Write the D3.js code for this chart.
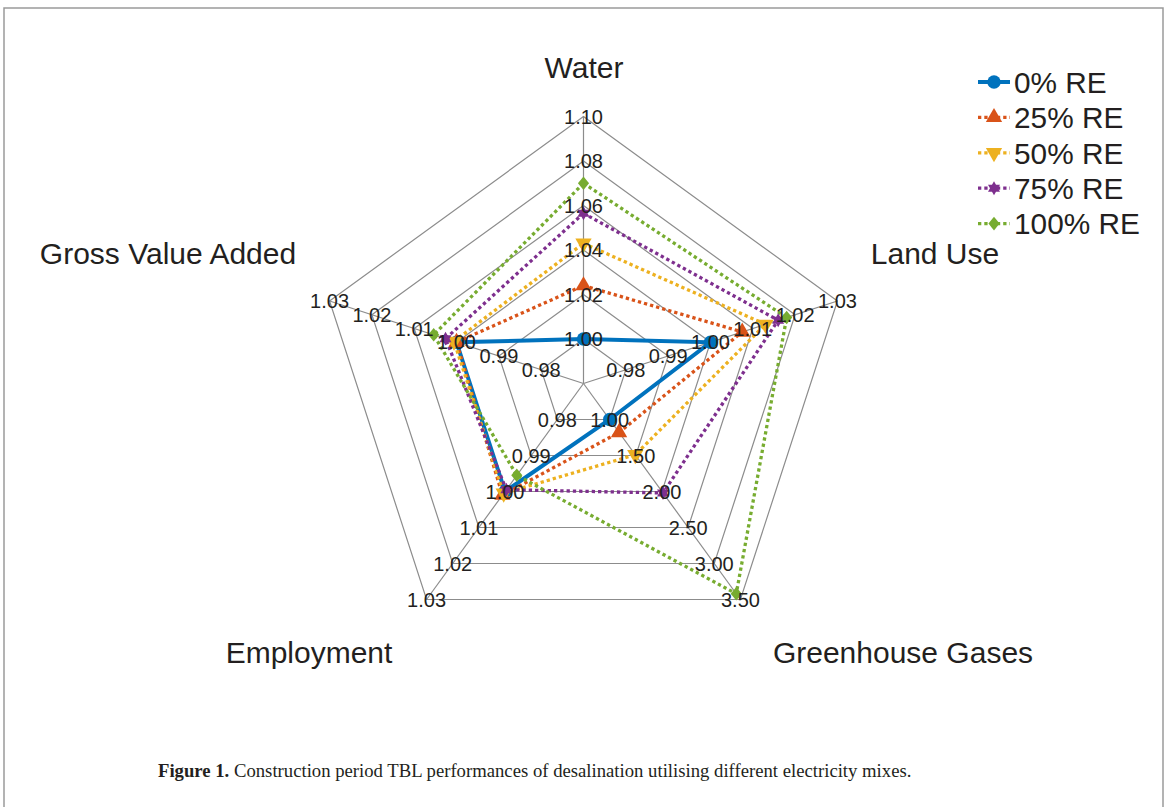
<!DOCTYPE html>
<html>
<head>
<meta charset="utf-8">
<script src="https://cdn.jsdelivr.net/npm/d3@7"></script>
<style>
  body { margin: 0; background: #fff; }
  svg { display: block; }
</style>
</head>
<body>
<div class="chart"></div>
<script>
// axes, clockwise from the top; every axis has its own scale
var axisNames = ["Water", "Land Use", "Greenhouse Gases", "Employment", "Gross Value Added"];
var axisMin = [0.98, 0.97, 0.50, 0.97, 0.97];
var axisMax = [1.10, 1.03, 3.50, 1.03, 1.03];
var waterTicks = ["1.00", "1.02", "1.04", "1.06", "1.08", "1.10"];
var landTicks = ["0.98", "0.99", "1.00", "1.01", "1.02", "1.03"];
var ghgTicks = ["1.00", "1.50", "2.00", "2.50", "3.00", "3.50"];
var employTicks = ["0.98", "0.99", "1.00", "1.01", "1.02", "1.03"];
var gvaTicks = ["0.98", "0.99", "1.00", "1.01", "1.02", "1.03"];
var axisTicks = [waterTicks, landTicks, ghgTicks, employTicks, gvaTicks];

var seriesNames = ["0% RE", "25% RE", "50% RE", "75% RE", "100% RE"];
var re0 = [1.00, 1.00, 1.00, 1.00, 1.00];
var re25 = [1.024, 1.0075, 1.18, 1.001, 1.000];
var re50 = [1.043, 1.013, 1.49, 1.0005, 1.0006];
var re75 = [1.0565, 1.016, 2.02, 0.9995, 1.0026];
var re100 = [1.070, 1.018, 3.42, 0.9955, 1.0054];
var seriesValues = [re0, re25, re50, re75, re100];

var svgWidth = 1168;
var svgHeight = 807;
var cx = 583.5, cy = 383.5, radius = 267;

var colors = ["#0072BD", "#D95319", "#EDB120", "#7E2F8E", "#77AC30"];

// hand made markers
var hexagram = {
  draw: function(ctx, size) {
    var r = Math.sqrt(size) * 0.62, ri = r / Math.sqrt(3);
    for (var k = 0; k < 12; k++) {
      var a = -Math.PI / 2 + k * Math.PI / 6, rr = k % 2 ? ri : r;
      if (k === 0) ctx.moveTo(rr * Math.cos(a), rr * Math.sin(a));
      else ctx.lineTo(rr * Math.cos(a), rr * Math.sin(a));
    }
    ctx.closePath();
  }
};
var diamond = {
  draw: function(ctx, size) {
    var h = Math.sqrt(size) * 0.62, w = h * 0.82;
    ctx.moveTo(0, -h); ctx.lineTo(w, 0); ctx.lineTo(0, h); ctx.lineTo(-w, 0); ctx.closePath();
  }
};
var markers = [
  { type: d3.symbolCircle, size: 140, rotate: 0 },
  { type: d3.symbolTriangle, size: 115, rotate: 0 },
  { type: d3.symbolTriangle, size: 115, rotate: 180 },
  { type: hexagram, size: 125, rotate: 0 },
  { type: diamond, size: 120, rotate: 0 }
];

var svg = d3.select(".chart")
  .append("svg")
  .attr("width", svgWidth)
  .attr("height", svgHeight);

// frame around the chart area
svg.append("path")
  .attr("d", "M4," + svgHeight + "V8H1163V" + svgHeight)
  .attr("fill", "none")
  .attr("stroke", "#9a9a9a")
  .attr("stroke-width", 1.5);

var scales = axisNames.map(function(name, i) {
  return d3.scaleLinear().domain([axisMin[i], axisMax[i]]).range([0, radius]);
});

function angle(i) {
  return -Math.PI / 2 + i * 2 * Math.PI / axisNames.length;
}
function point(i, value) {
  var r = scales[i](value);
  return [cx + r * Math.cos(angle(i)), cy + r * Math.sin(angle(i))];
}

var closedLine = d3.line().curve(d3.curveLinearClosed);
var chart = svg.append("g");

// rings, one per tick
var grid = chart.append("g").attr("fill", "none").attr("stroke", "#8c8c8c").attr("stroke-width", 1.2);
d3.range(waterTicks.length).forEach(function(k) {
  grid.append("path")
    .attr("d", closedLine(axisTicks.map(function(t, i) { return point(i, +t[k]); })));
});
// spokes
axisNames.forEach(function(name, i) {
  var end = point(i, axisMax[i]);
  grid.append("line")
    .attr("x1", cx).attr("y1", cy)
    .attr("x2", end[0]).attr("y2", end[1]);
});

// series
seriesValues.forEach(function(values, s) {
  var pts = values.map(function(v, i) { return point(i, v); });
  chart.append("path")
    .attr("d", closedLine(pts))
    .attr("fill", "none")
    .attr("stroke", colors[s])
    .attr("stroke-width", s === 0 ? 4 : 3.3)
    .attr("stroke-dasharray", s === 0 ? null : "3.3,3");
});
seriesValues.forEach(function(values, s) {
  var sym = d3.symbol().type(markers[s].type).size(markers[s].size);
  chart.selectAll(null)
    .data(values)
    .enter()
    .append("path")
    .attr("d", sym)
    .attr("fill", colors[s])
    .attr("transform", function(v, i) {
      var p = point(i, v);
      return "translate(" + p[0] + "," + p[1] + ") rotate(" + markers[s].rotate + ")";
    });
});

// tick labels sit on the ring corners
var tickLayer = chart.append("g")
  .attr("font-family", "'Liberation Sans', Arial, sans-serif")
  .attr("font-size", 20)
  .attr("fill", "#231f20")
  .attr("text-anchor", "middle");
axisTicks.forEach(function(ticks, i) {
  ticks.forEach(function(t) {
    var p = point(i, +t);
    tickLayer.append("text")
      .attr("x", p[0])
      .attr("y", p[1])
      .attr("dy", "0.36em")
      .text(t);
  });
});

// axis names
var namePos = [[584, 67], [935, 253], [903, 652], [309, 652], [168, 253]];
svg.append("g")
  .attr("font-family", "'Liberation Sans', Arial, sans-serif")
  .attr("font-size", 30)
  .attr("fill", "#231f20")
  .attr("text-anchor", "middle")
  .selectAll("text")
  .data(axisNames)
  .enter()
  .append("text")
  .attr("x", function(d, i) { return namePos[i][0]; })
  .attr("y", function(d, i) { return namePos[i][1]; })
  .attr("dy", "0.36em")
  .text(function(d) { return d; });

// legend
var legend = svg.append("g").attr("transform", "translate(978,82)");
seriesNames.forEach(function(name, s) {
  var row = legend.append("g").attr("transform", "translate(0," + (s * 35.4) + ")");
  row.append("line")
    .attr("x1", 0).attr("x2", 32)
    .attr("stroke", colors[s])
    .attr("stroke-width", s === 0 ? 4 : 3.3)
    .attr("stroke-dasharray", s === 0 ? null : "3.3,3");
  row.append("path")
    .attr("d", d3.symbol().type(markers[s].type).size(markers[s].size))
    .attr("transform", "translate(16,0) rotate(" + markers[s].rotate + ")")
    .attr("fill", colors[s]);
  row.append("text")
    .attr("x", 36)
    .attr("dy", "0.36em")
    .attr("font-family", "'Liberation Sans', Arial, sans-serif")
    .attr("font-size", 29.8)
    .attr("fill", "#231f20")
    .text(name);
});

// caption
var caption = svg.append("text")
  .attr("x", 158)
  .attr("y", 777)
  .attr("font-family", "'Liberation Serif', 'Times New Roman', serif")
  .attr("font-size", 18.7)
  .attr("fill", "#231f20");
caption.append("tspan").attr("font-weight", "bold").text("Figure 1.");
caption.append("tspan").text(" Construction period TBL performances of desalination utilising different electricity mixes.");
</script>
</body>
</html>
